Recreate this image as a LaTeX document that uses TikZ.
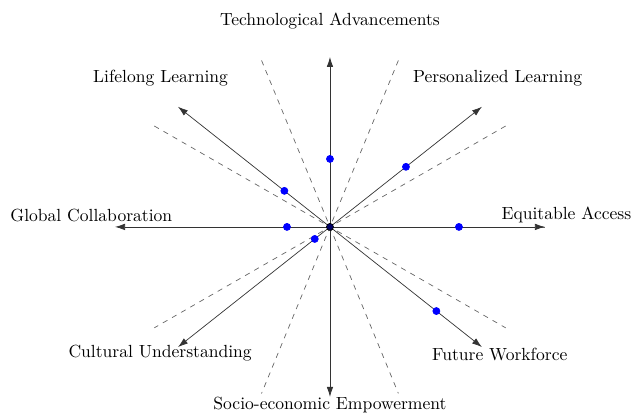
\documentclass[tikz,border=0pt]{standalone}
\usetikzlibrary{arrows.meta}
\begin{document}
\begin{tikzpicture}[x=4.3cm,y=3.4cm,
    axis/.style={-{Latex[length=2mm,width=1.3mm]},black!80},
    guide/.style={dashed,black!60},
    dot/.style={blue}]
    \useasboundingbox (-1.535,-1.112) rectangle (1.405,1.335);

    \coordinate (o) at (0,0);
    \coordinate (equi) at (0:1);
    \coordinate (pers) at (45:1);
    \coordinate (tech) at (90:1);
    \coordinate (life) at (135:1);
    \coordinate (glob) at (180:1);
    \coordinate (cult) at (225:1);
    \coordinate (socio) at (270:1);
    \coordinate (futw) at (315:1);

    \draw[guide] (0:1) -- (180:1);
    \draw[guide] (36:1.01) -- (216:1.01);
    \draw[guide] (144:1.01) -- (324:1.01);
    \draw[guide] (72:1.03) -- (252:1.03);
    \draw[guide] (108:1.03) -- (288:1.03);

    \draw[axis] (o) -- (equi);
    \draw[axis] (o) -- (pers);
    \draw[axis] (o) -- (tech);
    \draw[axis] (o) -- (life);
    \draw[axis] (o) -- (glob);
    \draw[axis] (o) -- (cult);
    \draw[axis] (o) -- (socio);
    \draw[axis] (o) -- (futw);

    \filldraw[dot] (0:0.6) circle (2pt);
    \filldraw[dot] (45:0.5) circle (2pt);
    \filldraw[dot] (90:0.4) circle (2pt);
    \filldraw[dot] (135:0.3) circle (2pt);
    \filldraw[dot] (180:0.2) circle (2pt);
    \filldraw[dot] (225:0.1) circle (2pt);
    \filldraw[dot] (315:0.7) circle (2pt);
    \filldraw[fill=blue!40!black,draw=black] (o) circle (2pt);

    \node (equilabel) at (1.10,0.07) {Equitable Access};
    \node (perslabel) at (0.78,0.876) {Personalized Learning};
    \node (techlabel) at (0,1.21) {Technological Advancements};
    \node (lifelabel) at (-0.788,0.876) {Lifelong Learning};
    \node (globlabel) at (-1.11,0.065) {Global Collaboration};
    \node (cultlabel) at (-0.79,-0.741) {Cultural Understanding};
    \node (sociolabel) at (0,-1.047) {Socio-economic Empowerment};
    \node (futwlabel) at (0.79,-0.753) {Future Workforce};
\end{tikzpicture}
\end{document}
